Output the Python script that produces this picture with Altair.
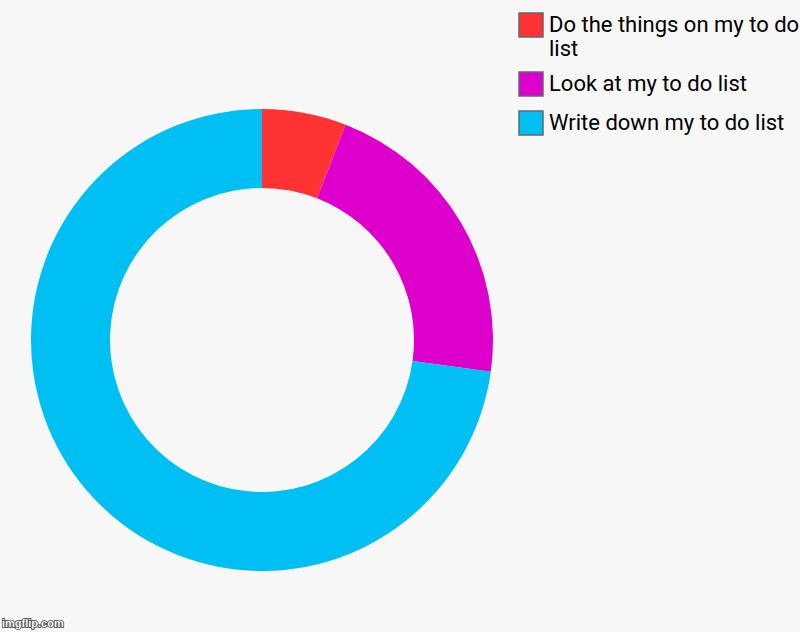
import altair as alt
import pandas as pd

categories = ["Do the things on my to do list", "Look at my to do list", "Write down my to do list"]
values = [5.9, 21.3, 72.8]
colors = ["#ff3333", "#dd00cc", "#00bff3"]

df = pd.DataFrame({"task": categories, "value": values, "idx": list(range(len(categories)))})

label_expr = ("datum.label == 'Do the things on my to do list' ? "
              "['Do the things on my to do', 'list'] : datum.label")

donut = alt.Chart(df).mark_arc(innerRadius=152, outerRadius=231).encode(
    theta=alt.Theta("value:Q", stack=True),
    order=alt.Order("idx:Q"),
    x=alt.value(262),
    y=alt.value(340),
    color=alt.Color(
        "task:N",
        scale=alt.Scale(domain=categories, range=colors),
        legend=alt.Legend(
            title=None,
            orient="none",
            legendX=518,
            legendY=12,
            symbolType="square",
            symbolSize=576,
            symbolStrokeColor="#666670",
            symbolStrokeWidth=1.5,
            symbolOpacity=1,
            labelFont="Roboto",
            labelFontSize=22,
            labelColor="#000000",
            labelLimit=400,
            labelOffset=5,
            labelExpr=label_expr,
            labelBaseline="middle",
            rowPadding=9,
            padding=0,
        ),
    ),
)

wm = alt.Chart(pd.DataFrame({"t": ["imgflip.com"]})).mark_text(
    font="Arial", fontSize=11, fontWeight="bold", fill="white", stroke="#333333", strokeWidth=1.5,
    align="left", baseline="bottom"
).encode(text="t:N", x=alt.value(2), y=alt.value(629))
wm2 = alt.Chart(pd.DataFrame({"t": ["imgflip.com"]})).mark_text(
    font="Arial", fontSize=11, fontWeight="bold", fill="white",
    align="left", baseline="bottom"
).encode(text="t:N", x=alt.value(2), y=alt.value(629))

chart = alt.layer(donut, wm, wm2).properties(
    width=800, height=632, background="#f7f7f7", padding=0,
    autosize=alt.AutoSizeParams(type="none")
).configure_view(stroke=None)

chart.save("out.html", embed_options={"renderer": "svg", "actions": False})
